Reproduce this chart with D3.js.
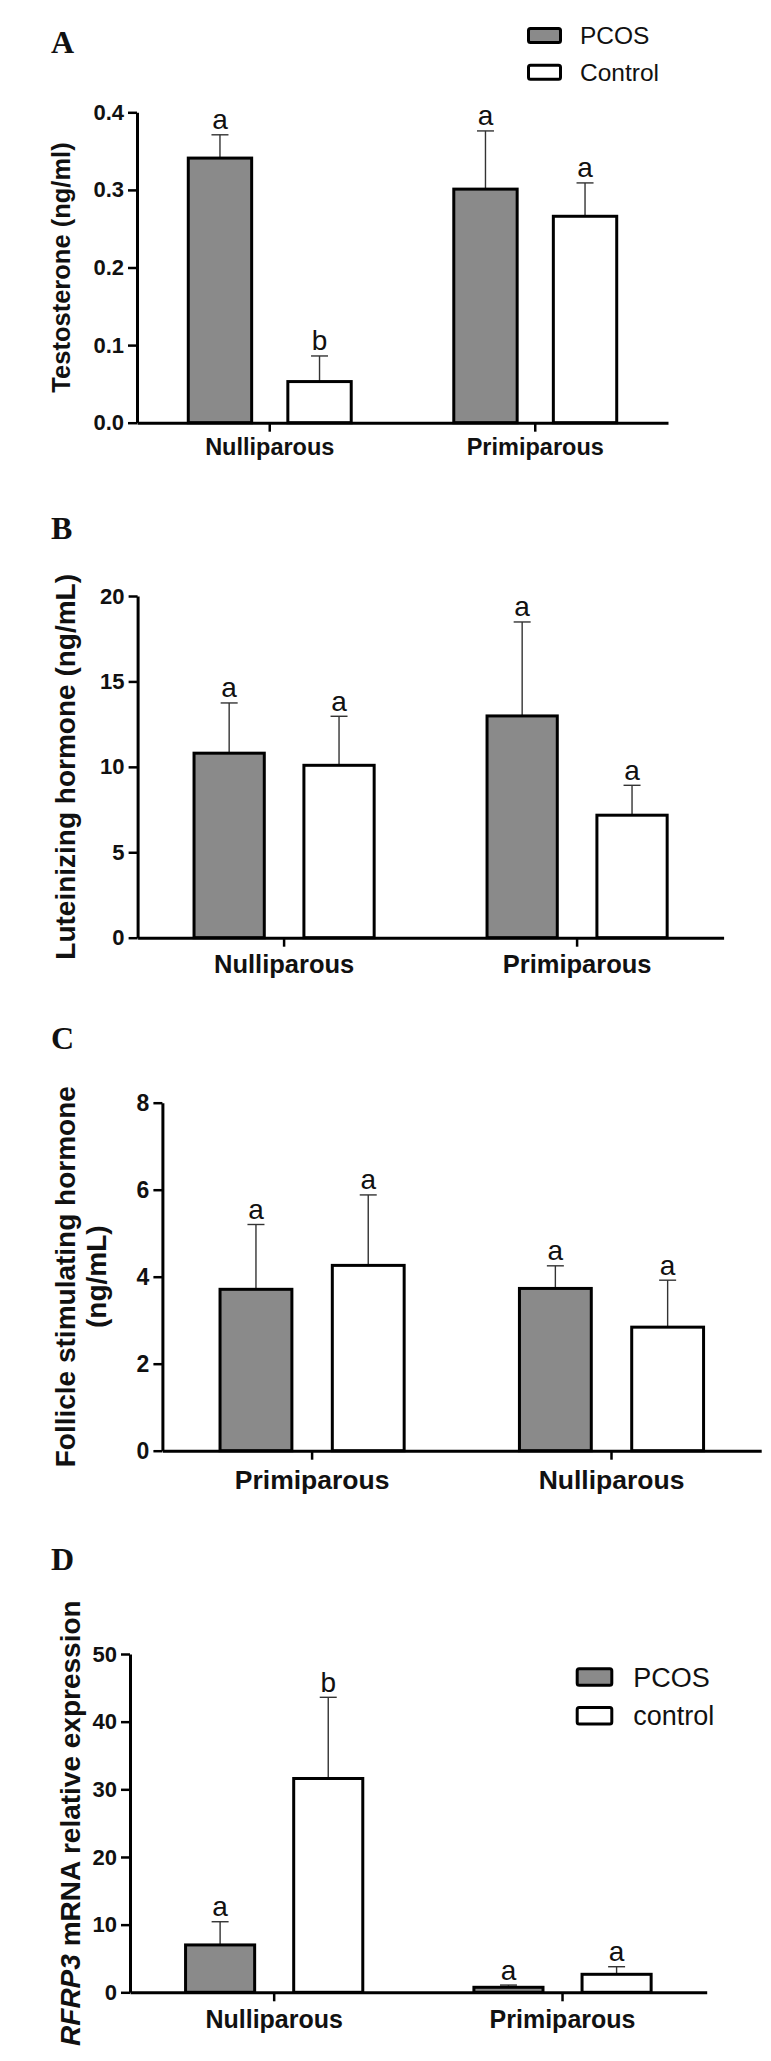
<!DOCTYPE html>
<html><head><meta charset="utf-8">
<script src="https://cdn.jsdelivr.net/npm/d3@7"></script>
<style>html,body{margin:0;padding:0;background:#fff}svg{display:block}</style>
</head><body>
<script>
// ---------------- DATA ----------------
const seriesKeys = ["pcos", "ctrl"];
const legendNamesA = ["PCOS", "Control"];
const legendNamesD = ["PCOS", "control"];

// Panel A: Testosterone (ng/ml)
const catsA = ["Nulliparous", "Primiparous"];
const pcosA = [0.341, 0.301];
const pcosErrA = [0.030, 0.075];
const ctrlA = [0.053, 0.266];
const ctrlErrA = [0.033, 0.043];
const pcosLetA = ["a", "a"];
const ctrlLetA = ["b", "a"];
const ticksA = [0, 0.1, 0.2, 0.3, 0.4];

// Panel B: Luteinizing hormone (ng/mL)
const catsB = ["Nulliparous", "Primiparous"];
const pcosB = [10.8, 12.98];
const pcosErrB = [2.94, 5.5];
const ctrlB = [10.09, 7.17];
const ctrlErrB = [2.87, 1.75];
const pcosLetB = ["a", "a"];
const ctrlLetB = ["a", "a"];
const ticksB = [0, 5, 10, 15, 20];

// Panel C: Follicle stimulating hormone (ng/mL)
const catsC = ["Primiparous", "Nulliparous"];
const pcosC = [3.71, 3.73];
const pcosErrC = [1.49, 0.52];
const ctrlC = [4.26, 2.84];
const ctrlErrC = [1.62, 1.08];
const pcosLetC = ["a", "a"];
const ctrlLetC = ["a", "a"];
const ticksC = [0, 2, 4, 6, 8];

// Panel D: RFRP3 mRNA relative expression
const catsD = ["Nulliparous", "Primiparous"];
const pcosD = [7.0, 0.74];
const pcosErrD = [3.43, 0.33];
const ctrlD = [31.6, 2.66];
const ctrlErrD = [12.0, 1.12];
const pcosLetD = ["a", "a"];
const ctrlLetD = ["b", "a"];
const ticksD = [0, 10, 20, 30, 40, 50];

// ---------------- STYLE / LAYOUT ----------------
const W = 771, H = 2061;
const SANS = "'Liberation Sans', Arial, Helvetica, sans-serif";
const SERIF = "'Liberation Serif', 'Times New Roman', serif";
const FILLS = {pcos: "#8a8a8a", ctrl: "#ffffff"};

const svg = d3.select("body").append("svg").attr("width", W).attr("height", H);
svg.append("rect").attr("width", W).attr("height", H).attr("fill", "#fff");

const panels = [
  {label: "A", cats: catsA, pcos: pcosA, pcosErr: pcosErrA, ctrl: ctrlA, ctrlErr: ctrlErrA,
   pcosLet: pcosLetA, ctrlLet: ctrlLetA, ticks: ticksA, fmt: d3.format(".1f"),
   title: [[{t: "Testosterone (ng/ml)"}]],
   L: {lx: 51, ly: 53, x0: 137, x1: 668, yTop: 112.3, yBot: 422.7, titleX: [70], titleSize: 25.5,
       tickFont: 22, xlabSize: 23.5, xlabY: 32,
       legend: {x: 528.5, y: 28.5, w: 32, h: 14, gap: 36.7, tx: 580, size: 24.5, names: legendNamesA}}},
  {label: "B", cats: catsB, pcos: pcosB, pcosErr: pcosErrB, ctrl: ctrlB, ctrlErr: ctrlErrB,
   pcosLet: pcosLetB, ctrlLet: ctrlLetB, ticks: ticksB, fmt: d3.format("d"),
   title: [[{t: "Luteinizing hormone (ng/mL)"}]],
   L: {lx: 51, ly: 539, x0: 137.6, x1: 723.6, yTop: 596, yBot: 937.7, titleX: [74.5], titleSize: 28,
       tickFont: 22, xlabSize: 25.5, xlabY: 35}},
  {label: "C", cats: catsC, pcos: pcosC, pcosErr: pcosErrC, ctrl: ctrlC, ctrlErr: ctrlErrC,
   pcosLet: pcosLetC, ctrlLet: ctrlLetC, ticks: ticksC, fmt: d3.format("d"),
   title: [[{t: "Follicle stimulating hormone"}], [{t: "(ng/mL)"}]],
   L: {lx: 51, ly: 1049, x0: 162.4, x1: 761.2, yTop: 1102.7, yBot: 1450.7, titleX: [74.5, 105.5], titleSize: 28,
       tickFont: 23, xlabSize: 26.5, xlabY: 38}},
  {label: "D", cats: catsD, pcos: pcosD, pcosErr: pcosErrD, ctrl: ctrlD, ctrlErr: ctrlErrD,
   pcosLet: pcosLetD, ctrlLet: ctrlLetD, ticks: ticksD, fmt: d3.format("d"),
   title: [[{t: "RFRP3", italic: true}, {t: " mRNA relative expression"}]],
   L: {lx: 51, ly: 1570, x0: 130, x1: 706.7, yTop: 1654, yBot: 1992.3, titleX: [80], titleSize: 28,
       tickFont: 22, xlabSize: 25, xlabY: 36,
       legend: {x: 577.2, y: 1668.8, w: 34.6, h: 16.4, gap: 38.7, tx: 633.3, size: 27, names: legendNamesD}}}
];

function drawPanel(p) {
  const L = p.L;
  const g = svg.append("g");
  const y = d3.scaleLinear().domain([0, p.ticks[p.ticks.length - 1]]).range([L.yBot, L.yTop]);
  const x = d3.scaleBand().domain(p.cats).range([L.x0, L.x1]).paddingInner(0).paddingOuter(0);
  const xs = d3.scaleBand().domain(seriesKeys).range([0, x.bandwidth()]).paddingInner(1/3).paddingOuter(0.5);

  // panel letter
  g.append("text").attr("x", L.lx).attr("y", L.ly).text(p.label)
    .attr("font-family", SERIF).attr("font-weight", "bold").attr("font-size", 32).attr("fill", "#111");

  // rows of data
  const rows = [];
  p.cats.forEach((c, i) => {
    rows.push({cat: c, key: "pcos", v: p.pcos[i], e: p.pcosErr[i], lt: p.pcosLet[i]});
    rows.push({cat: c, key: "ctrl", v: p.ctrl[i], e: p.ctrlErr[i], lt: p.ctrlLet[i]});
  });

  // error bars (behind bars)
  const eb = g.append("g").attr("stroke", "#333").attr("stroke-width", 1.4);
  rows.forEach(r => {
    const cx = x(r.cat) + xs(r.key) + xs.bandwidth() / 2;
    eb.append("line").attr("x1", cx).attr("x2", cx).attr("y1", y(r.v)).attr("y2", y(r.v + r.e));
    eb.append("line").attr("x1", cx - 8.5).attr("x2", cx + 8.5).attr("y1", y(r.v + r.e)).attr("y2", y(r.v + r.e));
  });

  // bars
  g.append("g").selectAll("rect").data(rows).join("rect")
    .attr("x", d => x(d.cat) + xs(d.key) + 1.5)
    .attr("width", xs.bandwidth() - 3)
    .attr("y", d => y(d.v))
    .attr("height", d => y(0) - y(d.v))
    .attr("fill", d => FILLS[d.key])
    .attr("stroke", "#000").attr("stroke-width", 3);

  // significance letters
  g.append("g").selectAll("text").data(rows).join("text")
    .attr("x", d => x(d.cat) + xs(d.key) + xs.bandwidth() / 2)
    .attr("y", d => y(d.v + d.e) - 5.5)
    .attr("text-anchor", "middle")
    .attr("font-family", SANS).attr("font-size", 28).attr("fill", "#111")
    .text(d => d.lt);

  // y axis
  const ya = g.append("g").attr("transform", `translate(${L.x0},0)`)
    .call(d3.axisLeft(y).tickValues(p.ticks).tickFormat(p.fmt).tickSize(9).tickSizeOuter(0).tickPadding(4));
  ya.select(".domain").attr("stroke", "#000").attr("stroke-width", 3);
  ya.selectAll(".tick line").attr("stroke", "#000").attr("stroke-width", 2.5);
  ya.selectAll(".tick text").attr("font-family", SANS).attr("font-weight", "bold")
    .attr("font-size", L.tickFont).attr("fill", "#111");

  // x axis
  const xa = g.append("g").attr("transform", `translate(0,${L.yBot})`)
    .call(d3.axisBottom(x).tickSize(9).tickSizeOuter(0));
  xa.select(".domain").attr("stroke", "#000").attr("stroke-width", 3);
  xa.selectAll(".tick line").attr("stroke", "#000").attr("stroke-width", 2.5);
  xa.selectAll(".tick text").attr("y", L.xlabY).attr("dy", 0)
    .attr("font-family", SANS).attr("font-weight", "bold")
    .attr("font-size", L.xlabSize).attr("fill", "#111");

  // y title
  const mid = (L.yTop + L.yBot) / 2;
  p.title.forEach((line, li) => {
    const t = g.append("text")
      .attr("transform", `translate(${L.titleX[li]},${mid}) rotate(-90)`)
      .attr("text-anchor", "middle")
      .attr("font-family", SANS).attr("font-weight", "bold")
      .attr("font-size", L.titleSize).attr("fill", "#111");
    line.forEach(seg => {
      t.append("tspan").text(seg.t).attr("font-style", seg.italic ? "italic" : "normal");
    });
  });

  // legend
  if (L.legend) {
    const lg = L.legend;
    seriesKeys.forEach((k, i) => {
      const yy = lg.y + i * lg.gap;
      g.append("rect").attr("x", lg.x).attr("y", yy).attr("width", lg.w).attr("height", lg.h)
        .attr("rx", 2).attr("fill", FILLS[k]).attr("stroke", "#000").attr("stroke-width", 3);
      g.append("text").attr("x", lg.tx).attr("y", yy + lg.h + 1.5)
        .attr("font-family", SANS).attr("font-size", lg.size).attr("fill", "#111")
        .text(lg.names[i]);
    });
  }
}

panels.forEach(drawPanel);
</script>
</body></html>
